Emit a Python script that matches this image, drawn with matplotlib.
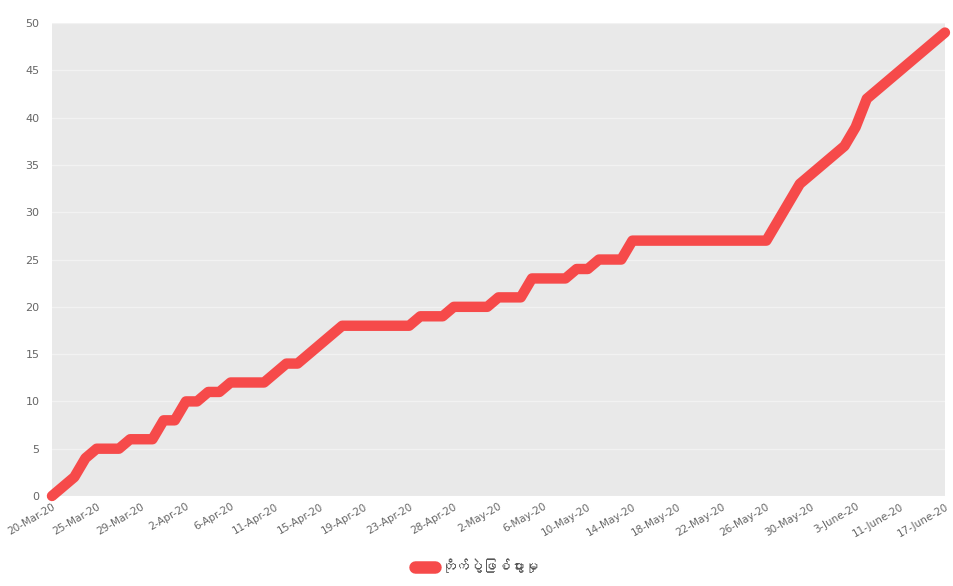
import numpy as np
import matplotlib
matplotlib.use("Agg")
import matplotlib.pyplot as plt
from matplotlib import font_manager

# values, one per category (81 dates)
values = [0, 1, 2, 4, 5, 5, 5, 6, 6, 6,
          8, 8, 10, 10, 11, 11, 12, 12, 12, 12,
          13, 14, 14, 15, 16, 17, 18, 18, 18, 18,
          18, 18, 18, 19, 19, 19, 20, 20, 20, 20,
          21, 21, 21, 23, 23, 23, 23, 24, 24, 25,
          25, 25, 27, 27, 27, 27, 27, 27, 27, 27,
          27, 27, 27, 27, 27, 29, 31, 33, 34, 35,
          36, 37, 39, 42, 43, 44, 45, 46, 47, 48,
          49]

tick_labels = ['20-Mar-20', '25-Mar-20', '29-Mar-20', '2-Apr-20', '6-Apr-20',
               '11-Apr-20', '15-Apr-20', '19-Apr-20', '23-Apr-20', '28-Apr-20',
               '2-May-20', '6-May-20', '10-May-20', '14-May-20', '18-May-20',
               '22-May-20', '26-May-20', '30-May-20', '3-June-20', '11-June-20',
               '17-June-20']

series_name = 'တိုက်ပွဲဖြစ်ပွားမှု'


def find_myanmar_font():
    # look for any installed font that covers the Myanmar block
    try:
        from fontTools.ttLib import TTFont
    except ImportError:
        return None
    for f in font_manager.fontManager.ttflist:
        try:
            tt = TTFont(f.fname, fontNumber=0, lazy=True)
            cmap = tt.getBestCmap()
            if cmap and 0x1000 in cmap and 0x102D in cmap:
                return f.name
        except Exception:
            continue
    return None


mm_font = find_myanmar_font()
legend_family = [mm_font, 'DejaVu Sans'] if mm_font else ['DejaVu Sans']

x = np.arange(len(values))
red = '#f64a4a'

fig = plt.figure(figsize=(9.54, 5.86), dpi=100)
ax = fig.add_axes([0.0545, 0.1536, 0.936, 0.807])
ax.set_facecolor('#e9e9e9')

ax.plot(x, values, color=red, linewidth=7.5, solid_joinstyle='round',
        solid_capstyle='round', clip_on=False, label=series_name, zorder=3)

ax.set_xlim(0, len(values) - 1)
ax.set_ylim(0, 50)
ax.set_yticks(range(0, 51, 5))
ax.set_xticks(x[::4])
ax.set_xticklabels(tick_labels, rotation=30, ha='right', rotation_mode='anchor')

ax.tick_params(axis='both', length=0, colors='#666666')
ax.tick_params(axis='x', labelsize=7.5, pad=4)
ax.tick_params(axis='y', labelsize=8, pad=9)
ax.grid(axis='y', color='#f2f2f2', linewidth=1, zorder=0)
ax.set_axisbelow(True)
for s in ax.spines.values():
    s.set_visible(False)

leg = fig.legend(loc='lower center', bbox_to_anchor=(0.5, 0.0), frameon=False,
                 handlelength=1.4, handletextpad=0.5,
                 prop={'family': legend_family, 'size': 10})
for h in leg.get_lines():
    h.set_linewidth(9)
for t in leg.get_texts():
    t.set_color('#555555')

plt.savefig('out.png', dpi=100)
